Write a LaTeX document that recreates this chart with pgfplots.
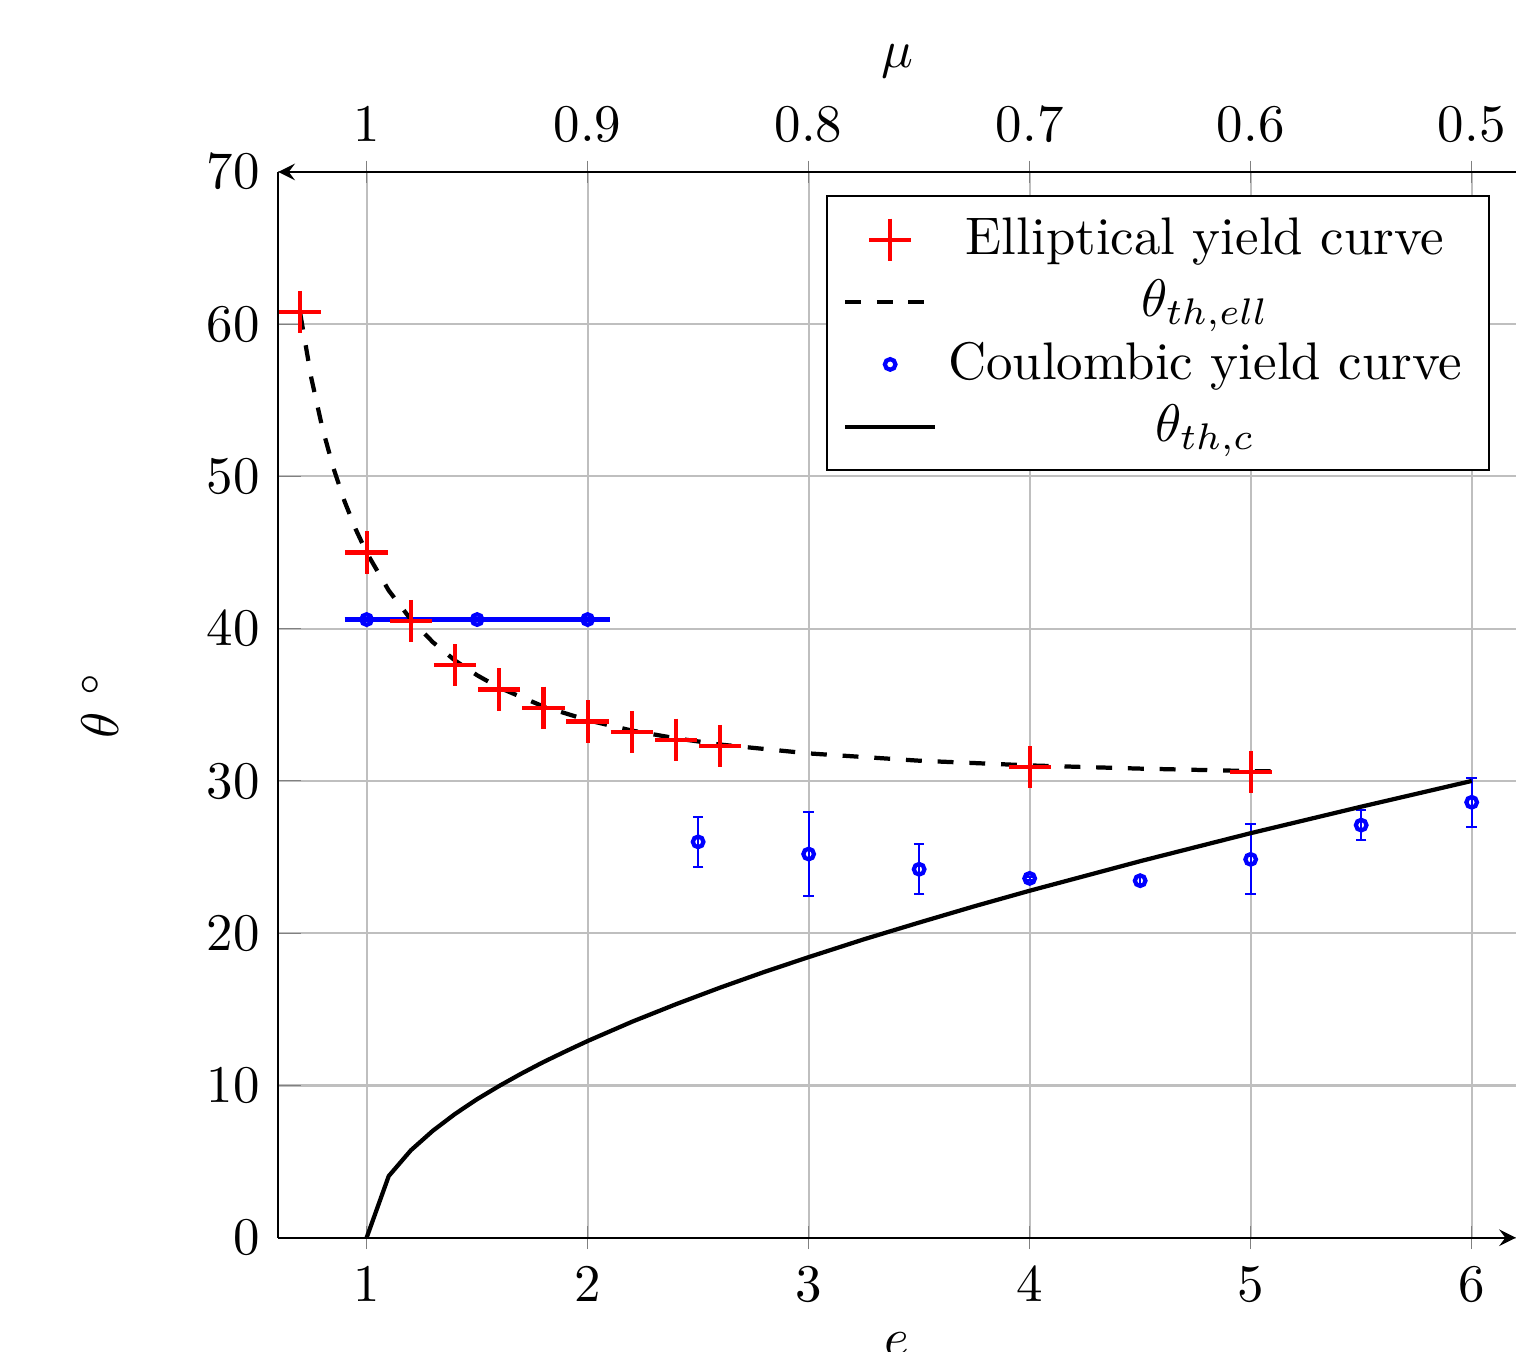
\documentclass[border=0pt]{standalone}
\usepackage{pgfplots}
\pgfplotsset{compat=1.18}
\usetikzlibrary{calc}

\begin{document}
\begin{tikzpicture}
\begin{axis}[
  name=ax,
  scale only axis,
  width=234pt, height=201.5pt,
  xmin=0.6, xmax=6.2,
  ymin=0, ymax=70,
  axis x line=bottom,
  axis y line=left,
  y axis line style={-},
  ytick align=inside,
  xtick={1,2,3,4,5,6},
  ytick={0,10,20,30,40,50,60,70},
  grid=major,
  xlabel={$e$},
  ylabel={$\theta$ $^\circ$},
  xlabel style={at={(axis description cs:0.5,-0.1)}, anchor=center},
  ylabel style={at={(axis description cs:-0.144,0.5)}, anchor=center},
  legend cell align=center,
  legend style={at={(axis description cs:0.979,0.978)}, anchor=north east,
    draw=black, fill=white, row sep=-0.7pt},
]
% Coulombic: horizontal segment at the low-e end
\addplot[blue, line width=0.8pt, forget plot]
  coordinates {(0.9,40.6) (2.1,40.6)};

% elliptical yield curve, measured
\addplot[only marks, red, mark=+, mark size=4pt, mark options={line width=0.8pt}]
  coordinates {
    (0.7,60.8) (1.0,45.0) (1.2,40.5) (1.4,37.6) (1.6,36.0) (1.8,34.8)
    (2.0,33.9) (2.2,33.2) (2.4,32.7) (2.6,32.3) (4.0,30.9) (5.0,30.6)
  };
\addlegendentry{Elliptical yield curve}

% theta_th,ell
\addplot[black, dashed, thick]
  coordinates {
    (0.7,60.67) (0.75,56.44) (0.8,53.17) (0.85,50.54) (0.9,48.37) (0.95,46.55)
    (1.0,45.0) (1.1,42.51) (1.2,40.61) (1.3,39.11) (1.4,37.91) (1.5,36.94)
    (1.6,36.13) (1.8,34.89) (2.0,33.99) (2.2,33.31) (2.4,32.80) (2.6,32.39)
    (3.0,31.81) (3.5,31.33) (4.0,31.02) (4.5,30.81) (5.0,30.65) (5.1,30.63)
  };
\addlegendentry{$\theta_{th,ell}$}

% Coulombic yield curve, measured with spread
\addplot[only marks, blue, mark=o, mark size=1pt, mark options={line width=0.8pt},
  error bars/.cd, y dir=both, y explicit]
  table[x=e, y=t, y error=err] {
    e    t     err
    1.0  40.6  0
    1.5  40.6  0
    2.0  40.6  0
    2.5  26.0  1.65
    3.0  25.2  2.75
    3.5  24.2  1.65
    4.0  23.6  0.1
    4.5  23.45 0.3
    5.0  24.85 2.3
    5.5  27.1  1.0
    6.0  28.6  1.6
  };
\addlegendentry{Coulombic yield curve}

% theta_th,c
\addplot[black, thick]
  coordinates {
    (1.0,0) (1.1,4.05) (1.2,5.74) (1.3,7.03) (1.4,8.13) (1.5,9.10)
    (1.6,9.97) (1.7,10.78) (1.8,11.54) (1.9,12.24) (2.0,12.92)
    (2.2,14.18) (2.4,15.34) (2.6,16.43) (2.8,17.46) (3.0,18.43)
    (3.25,19.60) (3.5,20.70) (3.75,21.77) (4.0,22.79) (4.5,24.73)
    (5.0,26.57) (5.5,28.31) (6.0,30.0)
  };
\addlegendentry{$\theta_{th,c}$}
\end{axis}

% top axis: mu
\begin{axis}[
  scale only axis,
  width=234pt, height=201.5pt,
  xmin=0.48, xmax=1.04,
  x dir=reverse,
  ymin=0, ymax=70,
  axis x line=top,
  axis y line=none,
  xtick={0.5,0.6,0.7,0.8,0.9,1},
  xlabel={$\mu$},
  xlabel style={at={(axis description cs:0.5,1.104)}, anchor=center},
]
\end{axis}

\pgfresetboundingbox
\path[use as bounding box]
  ($(ax.south west)+(-52.6pt,-21.5pt)$) rectangle ($(ax.north east)+(0.4pt,32.5pt)$);
\end{tikzpicture}
\end{document}
